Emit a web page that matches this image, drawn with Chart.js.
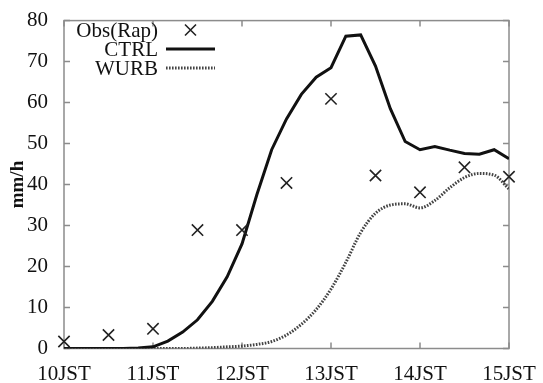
<!DOCTYPE html>
<html>
<head>
<meta charset="utf-8">
<script src="https://cdn.jsdelivr.net/npm/chart.js@4/dist/chart.umd.min.js"></script>
<style>
  html, body { margin: 0; padding: 0; background: #fff; }
</style>
</head>
<body>
<canvas id="myChart" width="543" height="383"></canvas>
<script>
// minutes after 10JST
const modelMinutes = [0, 10, 20, 30, 40, 50, 60, 70, 80, 90, 100, 110, 120, 130, 140, 150,
  160, 170, 180, 190, 200, 210, 220, 230, 240, 250, 260, 270, 280, 290, 300];
const ctrlValues = [0, 0, 0, 0, 0, 0.1, 0.4, 1.8, 4.0, 7.0, 11.5, 17.5, 25.5, 37.5, 48.5, 56,
  62, 66.2, 68.5, 76.2, 76.5, 68.9, 58.5, 50.5, 48.5, 49.3, 48.4, 47.6, 47.4, 48.5, 46.3];
const wurbValues = [0, 0, 0, 0, 0, 0, 0, 0, 0, 0.1, 0.2, 0.4, 0.6, 1.0, 1.7, 3.3,
  5.9, 9.5, 14.5, 21, 28.3, 33, 35, 35.3, 34.3, 36.1, 39.2, 41.7, 42.7, 42.3, 38.9];
const obsMinutes = [0, 30, 60, 90, 120, 150, 180, 210, 240, 270, 300];
const obsValues = [1.7, 3.3, 4.8, 28.9, 28.9, 40.4, 60.9, 42.2, 38.1, 44.2, 41.9];
const hourLabels = ['10JST', '11JST', '12JST', '13JST', '14JST', '15JST'];
const yTitle = 'mm/h';

const serif = '"Liberation Serif", "DejaVu Serif", serif';
const frameColor = '#8c8c8c';

const toPoints = (xs, ys) => xs.map((m, i) => ({ x: m / 60, y: ys[i] }));

// gnuplot-like frame with inward ticks on all four sides
const framePlugin = {
  id: 'frame',
  beforeDatasetsDraw(chart) {
    const { ctx, chartArea: a, scales } = chart;
    ctx.save();
    ctx.strokeStyle = frameColor;
    ctx.lineWidth = 1.5;
    ctx.strokeRect(a.left, a.top, a.right - a.left, a.bottom - a.top);
    ctx.beginPath();
    scales.y.ticks.forEach((t) => {
      const y = scales.y.getPixelForValue(t.value);
      ctx.moveTo(a.left, y); ctx.lineTo(a.left + 6, y);
      ctx.moveTo(a.right, y); ctx.lineTo(a.right - 6, y);
    });
    scales.x.ticks.forEach((t) => {
      const x = scales.x.getPixelForValue(t.value);
      ctx.moveTo(x, a.bottom); ctx.lineTo(x, a.bottom - 6);
      ctx.moveTo(x, a.top); ctx.lineTo(x, a.top + 6);
    });
    ctx.stroke();
    // rotated y axis title, centred on the plot height
    ctx.translate(23, (a.top + a.bottom) / 2);
    ctx.rotate(-Math.PI / 2);
    ctx.font = 'bold 19px ' + serif;
    ctx.fillStyle = '#111';
    ctx.textAlign = 'center';
    ctx.textBaseline = 'alphabetic';
    ctx.fillText(yTitle, 0, 0);
    ctx.restore();
  },
};

// key in the upper left, text right-aligned before the sample
const keyPlugin = {
  id: 'key',
  afterDraw(chart) {
    const { ctx } = chart;
    const textRight = 158, x0 = 166, x1 = 215;
    const rows = [30, 49, 68];
    ctx.save();
    ctx.font = '21px ' + serif;
    ctx.fillStyle = '#111';
    ctx.textAlign = 'right';
    ctx.textBaseline = 'middle';
    chart.data.datasets.forEach((ds, i) => {
      const y = rows[i];
      ctx.fillText(ds.label, textRight, y + 1);
      ctx.strokeStyle = ds.borderColor;
      if (ds.showLine === false) {
        const cx = (x0 + x1) / 2;
        ctx.lineWidth = 1.6;
        ctx.beginPath();
        ctx.moveTo(cx - 5.5, y - 5.5); ctx.lineTo(cx + 5.5, y + 5.5);
        ctx.moveTo(cx - 5.5, y + 5.5); ctx.lineTo(cx + 5.5, y - 5.5);
        ctx.stroke();
      } else {
        ctx.lineWidth = ds.borderWidth;
        ctx.setLineDash(ds.borderDash || []);
        ctx.beginPath();
        ctx.moveTo(x0, y); ctx.lineTo(x1, y);
        ctx.stroke();
        ctx.setLineDash([]);
      }
    });
    ctx.restore();
  },
};

new Chart(document.getElementById('myChart'), {
  type: 'line',
  data: {
    datasets: [
      {
        label: 'Obs(Rap)',
        data: toPoints(obsMinutes, obsValues),
        showLine: false,
        borderColor: '#222',
        backgroundColor: '#222',
        pointStyle: 'crossRot',
        pointRadius: 8,
        pointBorderWidth: 1.6,
        clip: false,
      },
      {
        label: 'CTRL',
        data: toPoints(modelMinutes, ctrlValues),
        borderColor: '#111',
        borderWidth: 3,
        pointRadius: 0,
        tension: 0,
        fill: false,
      },
      {
        label: 'WURB',
        data: toPoints(modelMinutes, wurbValues),
        borderColor: '#444',
        borderWidth: 3,
        borderDash: [1.6, 1.4],
        pointRadius: 0,
        cubicInterpolationMode: 'monotone',
        fill: false,
      },
    ],
  },
  options: {
    responsive: false,
    animation: false,
    devicePixelRatio: 1,
    layout: { padding: { top: 15, right: 34, left: 0, bottom: 0 } },
    plugins: {
      legend: { display: false },
      tooltip: { enabled: false },
    },
    scales: {
      x: {
        type: 'linear',
        min: 0,
        max: 5,
        grid: { display: false },
        border: { display: false },
        ticks: {
          stepSize: 1,
          padding: 5,
          color: '#111',
          font: { family: serif, size: 21 },
          callback: (v) => hourLabels[v],
        },
        afterFit: (scale) => { scale.height = 34.5; },
      },
      y: {
        min: 0,
        max: 80,
        grid: { display: false },
        border: { display: false },
        ticks: {
          stepSize: 10,
          padding: 8,
          color: '#111',
          font: { family: serif, size: 21 },
        },
        afterFit: (scale) => { scale.width = 64; },
      },
    },
  },
  plugins: [framePlugin, keyPlugin],
});
</script>
</body>
</html>
